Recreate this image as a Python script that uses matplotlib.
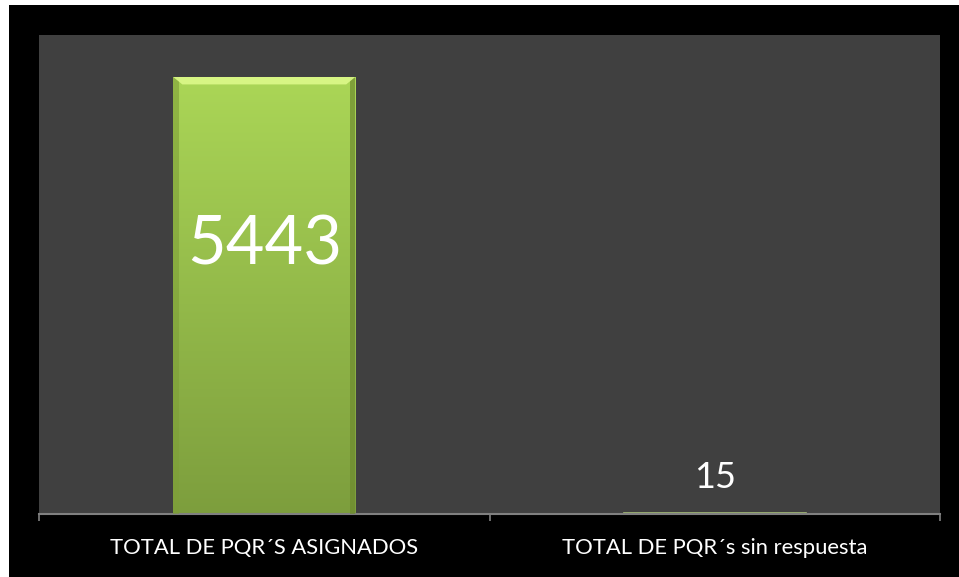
import numpy as np
import matplotlib.pyplot as plt
from matplotlib.patches import Rectangle, Polygon

categories = ["TOTAL DE PQR´S ASIGNADOS", "TOTAL DE PQR´s sin respuesta"]
values = [5443, 15]
label_sizes = [48, 26]

plt.rcParams['font.family'] = ['Lato', 'DejaVu Sans']

W, H = 959, 577
fig = plt.figure(figsize=(W / 100, H / 100), dpi=100)
fig.patch.set_facecolor('white')
# black slide background, offset from the white margin
fig.patches.append(Rectangle((9 / W, 0), 1 - 9 / W, 1 - 5 / H,
                             transform=fig.transFigure, facecolor='black',
                             edgecolor='none', zorder=-10))

ax = fig.add_axes([39 / W, 1 - 514 / H, (940 - 39) / W, (514 - 35) / H])
ax.set_facecolor('#404040')

x = np.arange(len(categories))
bars = ax.bar(x, values, width=0.404, color='#a3cc4f', edgecolor='none', zorder=2)

ax.set_xlim(-0.5, len(categories) - 0.5)
ax.set_ylim(0, 5966)

# vertical gradient + bevel look inside each bar
grad = np.linspace(0, 1, 256).reshape(-1, 1)
top_c = np.array([0.67, 0.84, 0.34])
bot_c = np.array([0.49, 0.62, 0.24])
img = grad[..., None] * top_c + (1 - grad[..., None]) * bot_c
for b in bars:
    x0, w, h = b.get_x(), b.get_width(), b.get_height()
    if h < 100:
        b.set_facecolor('#a6bf78')
        b.set_edgecolor('#a6bf78')
        b.set_linewidth(1.2)
        continue
    im = ax.imshow(img, extent=(x0, x0 + w, 0, h), origin='lower',
                   aspect='auto', zorder=2.5)
    im.set_clip_path(b)
    # darker side edges
    ax.add_patch(Rectangle((x0, 0), w * 0.03, h, facecolor='#7e9f38',
                           edgecolor='none', alpha=0.6, zorder=3))
    ax.add_patch(Rectangle((x0 + w * 0.97, 0), w * 0.03, h, facecolor='#6d8a2e',
                           edgecolor='none', alpha=0.7, zorder=3))
    # top highlight bevel (trapezoid)
    dy = h * 0.017
    ax.add_patch(Polygon([(x0, h), (x0 + w, h), (x0 + w * 0.95, h - dy),
                          (x0 + w * 0.05, h - dy)], closed=True,
                         facecolor='#ddf98a', edgecolor='none', alpha=0.9, zorder=3.2))

# value labels
for xi, v, fs in zip(x, values, label_sizes):
    if v > 1000:
        ax.text(xi, v * 0.615, str(v), ha='center', va='center',
                color='white', fontsize=fs, zorder=5)
    else:
        ax.text(xi, v + 230, str(v), ha='center', va='bottom', color='white',
                fontsize=fs, zorder=5)

for s in ['top', 'left', 'right']:
    ax.spines[s].set_visible(False)
ax.spines['bottom'].set_color('#808080')
ax.spines['bottom'].set_linewidth(1.5)
ax.set_yticks([])

ax.set_xticks(np.arange(len(categories) + 1) - 0.5)
ax.set_xticklabels([])
ax.tick_params(axis='x', which='major', length=5, width=1.2, color='#808080', direction='out')
ax.set_xticks(x, minor=True)
ax.set_xticklabels(categories, minor=True)
ax.tick_params(axis='x', which='minor', length=0, pad=17, labelsize=15.8, labelcolor='white')

fig.savefig('out.png', dpi=100, facecolor=fig.get_facecolor())
